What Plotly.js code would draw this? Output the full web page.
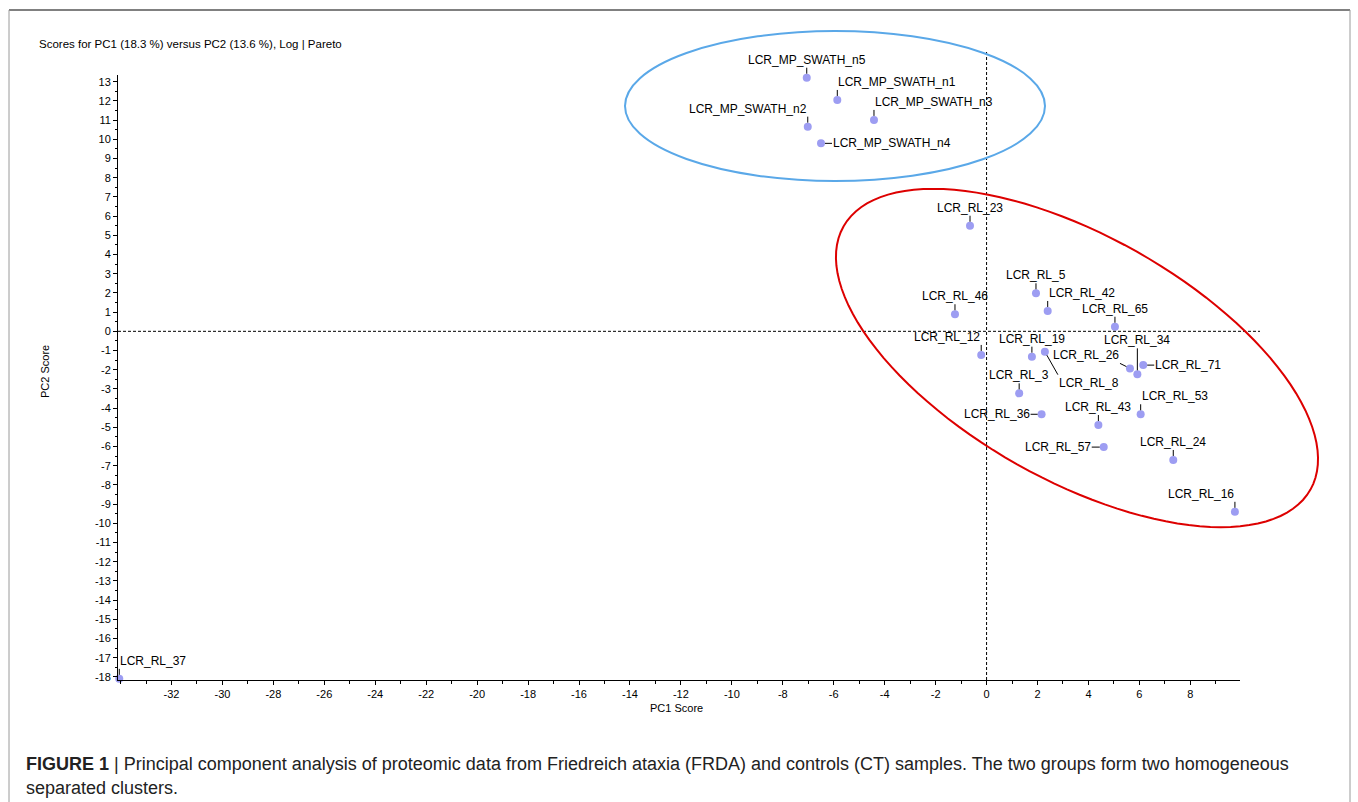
<!DOCTYPE html>
<html><head><meta charset="utf-8">
<script src="https://cdn.plot.ly/plotly-3.0.1.min.js"></script>
<style>html,body{margin:0;padding:0;background:#fff;}#chart{width:1358px;height:802px;}</style>
</head><body><div id="chart"></div>
<script>
// ---- data ----
const sampleNames = ["LCR_MP_SWATH_n5","LCR_MP_SWATH_n1","LCR_MP_SWATH_n3","LCR_MP_SWATH_n2","LCR_MP_SWATH_n4",
  "LCR_RL_23","LCR_RL_46","LCR_RL_5","LCR_RL_42","LCR_RL_65","LCR_RL_12","LCR_RL_19","LCR_RL_8","LCR_RL_26",
  "LCR_RL_34","LCR_RL_71","LCR_RL_3","LCR_RL_36","LCR_RL_43","LCR_RL_53","LCR_RL_57","LCR_RL_24","LCR_RL_16","LCR_RL_37"];
const pc1Scores = [-7.06,-5.86,-4.42,-7.02,-6.50,
  -0.65,-1.24,1.94,2.40,5.04,-0.21,1.78,2.29,5.63,
  5.92,6.15,1.28,2.16,4.39,6.05,4.60,7.33,9.75,-34.05];
const pc2Scores = [13.21,12.05,11.01,10.66,9.79,
  5.50,0.89,1.98,1.06,0.24,-1.23,-1.32,-1.06,-1.93,
  -2.24,-1.76,-3.23,-4.32,-4.88,-4.32,-6.03,-6.70,-9.40,-18.10];
const xTickVals = [-32,-30,-28,-26,-24,-22,-20,-18,-16,-14,-12,-10,-8,-6,-4,-2,0,2,4,6,8];
const xTickText = ["-32","-30","-28","-26","-24","-22","-20","-18","-16","-14","-12","-10","-8","-6","-4","-2","0","2","4","6","8"];
const yTickVals = [-18,-17,-16,-15,-14,-13,-12,-11,-10,-9,-8,-7,-6,-5,-4,-3,-2,-1,0,1,2,3,4,5,6,7,8,9,10,11,12,13];
const yTickText = ["-18","-17","-16","-15","-14","-13","-12","-11","-10","-9","-8","-7","-6","-5","-4","-3","-2","-1","0","1","2","3","4","5","6","7","8","9","10","11","12","13"];

// ---- label placement (pixel offsets of leader line tail) ----
const labelAx = [0,0,0,0,11, 0,0,0,0,0,0,0,13,-10, 0,11,0,-11,0,0,-12,0,0,0];
const labelAy = [-10,-10,-10,-10,0, -10,-10,-10,-10,-10,-10,-10,23,-5, -26,0,-10,0,-10,-10,0,-10,-10,-10];
const labelXAnchor = ["center","left","left","right","left","center","center","center","left","center","right","center","left","right",
  "center","left","center","right","center","left","right","center","right","left"];
const labelYAnchor = ["bottom","bottom","bottom","bottom","middle","bottom","bottom","bottom","bottom","bottom","bottom","bottom","top","bottom",
  "bottom","middle","bottom","middle","bottom","bottom","middle","bottom","bottom","bottom"];

// ---- geometry ----
const FIG_W = 1358, FIG_H = 802;
const M = {l:118, r:118, t:75, b:122};
const PW = FIG_W - M.l - M.r, PH = FIG_H - M.t - M.b;
const xRange = [-34.1, 9.95], yRange = [-18.16, 13.35];
const pxX = v => M.l + (v - xRange[0]) / (xRange[1]-xRange[0]) * PW;
const pxY = v => M.t + (yRange[1] - v) / (yRange[1]-yRange[0]) * PH;
const papX = px => (px - M.l) / PW;
const papY = py => (M.t + PH - py) / PH;

function ellipsePath(cxData, cyData, a, b, thetaDeg){
  const cx = pxX(cxData), cy = pxY(cyData), th = thetaDeg*Math.PI/180;
  let d = "";
  for (let i=0;i<=120;i++){
    const t = i/120*2*Math.PI;
    const ex = a*Math.cos(t), ey = b*Math.sin(t);
    const x = cx + ex*Math.cos(th) - ey*Math.sin(th);
    const y = cy + ex*Math.sin(th) + ey*Math.cos(th);
    d += (i===0?"M":"L") + papX(x).toFixed(5) + "," + papY(y).toFixed(5);
  }
  return d + "Z";
}

const fontMain = "Liberation Sans, Arial, sans-serif";

const trace = {
  x: pc1Scores, y: pc2Scores, type: "scatter", mode: "markers",
  marker: {size: 8, color: "#9d9df2"}, cliponaxis: false, hoverinfo: "text", text: sampleNames
};

const annotations = sampleNames.map((n,i)=>({
  x: pc1Scores[i], y: pc2Scores[i], xref:"x", yref:"y", text: n,
  showarrow: true, arrowhead: 0, arrowwidth: 1, arrowcolor: "#000", standoff: 4,
  ax: labelAx[i], ay: labelAy[i], xanchor: labelXAnchor[i], yanchor: labelYAnchor[i],
  borderpad: 0, font: {family: fontMain, size: 12, color: "#000"}
}));

annotations.push(
  {xref:"paper", yref:"paper", x: papX(37), y: papY(44), xanchor:"left", yanchor:"middle", showarrow:false,
   text:"Scores for PC1 (18.3 %) versus PC2 (13.6 %), Log | Pareto", font:{family:fontMain, size:11.5, color:"#000"}},
  {xref:"paper", yref:"paper", x: papX(676), y: papY(708), xanchor:"center", yanchor:"middle", showarrow:false,
   text:"PC1 Score", font:{family:fontMain, size:11, color:"#000"}},
  {xref:"paper", yref:"paper", x: papX(45), y: papY(372), xanchor:"center", yanchor:"middle", showarrow:false, textangle:-90,
   text:"PC2 Score", font:{family:fontMain, size:11, color:"#000"}},
  {xref:"paper", yref:"paper", x: papX(24), y: papY(764), xanchor:"left", yanchor:"middle", showarrow:false,
   text:"<b>FIGURE 1</b> | Principal component analysis of proteomic data from Friedreich ataxia (FRDA) and controls (CT) samples. The two groups form two homogeneous",
   font:{family:fontMain, size:18, color:"#222"}},
  {xref:"paper", yref:"paper", x: papX(24), y: papY(788), xanchor:"left", yanchor:"middle", showarrow:false,
   text:"separated clusters.", font:{family:fontMain, size:18, color:"#222"}}
);

const shapes = [
  {type:"line", xref:"paper", yref:"paper", x0:papX(pxX(0)), x1:papX(pxX(0)), y0:0, y1:papY(52),
   line:{color:"#000", width:1, dash:"3px,2px"}},
  {type:"line", xref:"paper", yref:"paper", x0:0, x1:papX(1260), y0:papY(pxY(0)), y1:papY(pxY(0)),
   line:{color:"#000", width:1, dash:"3px,2px"}},
  {type:"circle", xref:"paper", yref:"paper", x0:papX(625), x1:papX(1045), y0:papY(31), y1:papY(181),
   line:{color:"#5aa8e8", width:2}},
  {type:"path", xref:"paper", yref:"paper", path: ellipsePath(3.55, -1.39, 268, 122, 29.4),
   line:{color:"#dd0000", width:2}},
  {type:"line", xref:"paper", yref:"paper", x0:papX(9), x1:papX(1350), y0:papY(10), y1:papY(10), line:{color:"#808080", width:2}},
  {type:"line", xref:"paper", yref:"paper", x0:papX(9), x1:papX(9), y0:papY(10), y1:papY(802), line:{color:"#9a9a9a", width:1}},
  {type:"line", xref:"paper", yref:"paper", x0:papX(1350), x1:papX(1350), y0:papY(10), y1:papY(802), line:{color:"#9a9a9a", width:1}}
];

const layout = {
  width: FIG_W, height: FIG_H, margin: M, showlegend: false,
  paper_bgcolor: "#fff", plot_bgcolor: "#fff",
  font: {family: fontMain, size: 11, color: "#000"},
  xaxis: {range: xRange, tickvals: xTickVals, ticktext: xTickText, ticks: "outside", ticklen: 4, tickcolor: "#000",
    showline: true, linecolor: "#000", linewidth: 1, showgrid: false, zeroline: false,
    tickfont: {family: "Liberation Sans Narrow, " + fontMain, size: 11, color: "#000"},
    minor: {dtick: 1, ticks: "outside", ticklen: 3, tickcolor: "#000", showgrid: false}},
  yaxis: {range: yRange, tickvals: yTickVals, ticktext: yTickText, ticks: "outside", ticklen: 4, tickcolor: "#000",
    showline: true, linecolor: "#000", linewidth: 1, showgrid: false, zeroline: false,
    tickfont: {family: fontMain, size: 11, color: "#000"},
    minor: {dtick: 0.5, ticks: "outside", ticklen: 2, tickcolor: "#000", showgrid: false}},
  shapes: shapes, annotations: annotations
};

Plotly.newPlot("chart", [trace], layout, {staticPlot: true, displayModeBar: false});
</script></body></html>
